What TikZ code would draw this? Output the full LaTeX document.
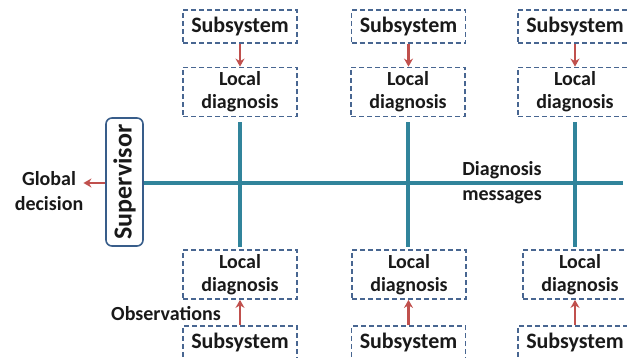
\documentclass[tikz,border=0pt]{standalone}
\usepackage{fontspec}
\setmainfont{Carlito}
\usetikzlibrary{arrows.meta,calc}
\definecolor{boxblue}{RGB}{72,102,145}
\definecolor{supblue}{RGB}{56,93,138}
\definecolor{teal}{RGB}{49,132,155}
\definecolor{arrred}{RGB}{192,80,77}
\definecolor{txt}{RGB}{25,25,25}
\tikzset{
  dbox/.style={draw=boxblue, line width=1.8pt, dash pattern=on 5pt off 3pt,
    minimum width=114pt, inner sep=0pt, align=center, text=txt,
    font=\bfseries\fontsize{20}{23}\selectfont},
  subbox/.style={dbox, minimum height=33pt, font=\bfseries\fontsize{22}{24}\selectfont},
  locbox/.style={dbox, minimum height=49pt},
  lbl/.style={align=center, text=txt, inner sep=0pt, font=\bfseries\fontsize{20}{25}\selectfont},
  bus/.style={draw=teal, line width=4pt},
  obsarrow/.style={draw=arrred, line width=2.2pt, -{Stealth[length=8pt,width=9pt]}},
}
\begin{document}
\begin{tikzpicture}[x=1pt,y=-1pt]
\useasboundingbox (0,0) rectangle (627,358);
\clip (0,0) rectangle (627,358);
% top row
\node[subbox] (st1) at (240,26.5) {Subsystem};
\node[subbox] (st2) at (408.5,26.5) {Subsystem};
\node[subbox] (st3) at (575,26.5) {Subsystem};
\node[locbox] (lt1) at (240,92) {Local\\diagnosis};
\node[locbox] (lt2) at (408,92) {Local\\diagnosis};
\node[locbox] (lt3) at (575,92) {Local\\diagnosis};
% bottom row
\node[locbox] (lb1) at (240,274.5) {Local\\diagnosis};
\node[locbox] (lb2) at (409,274.5) {Local\\diagnosis};
\node[locbox] (lb3) at (580,274.5) {Local\\diagnosis};
\node[subbox, minimum height=34pt] (sb1) at (240,343) {Subsystem};
\node[subbox, minimum height=34pt] (sb2) at (408.5,343) {Subsystem};
\node[subbox, minimum height=34pt] (sb3) at (575,343) {Subsystem};
% supervisor
\node[draw=supblue, line width=1.6pt, rounded corners=6pt, minimum width=37pt,
  minimum height=128pt, inner sep=0pt, text=txt] (sup) at (124.5,182)
  {\rotatebox{90}{\bfseries\fontsize{26}{28}\selectfont Supervisor}};
% labels
\node[lbl] (glob) at (49,191) {Global\\decision};
\node[lbl] (msg) at (502,183) {Diagnosis\\messages};
\node[lbl, anchor=base] (obs) at (166,320) {Observations};
\coordinate (busend) at (623,183);
% bus
\draw[bus] (sup.east |- busend) -- (busend);
\draw[bus] ($(lt1.south)+(0,5)$) -- ($(lt1.south |- lb1.north)+(0,-2)$);
\draw[bus] ($(lt2.south)+(0,5)$) -- ($(lt2.south |- lb2.north)+(0,-2)$);
\draw[bus] ($(lt3.south)+(0,5)$) -- ($(lt3.south |- lb3.north)+(0,-2)$);
% arrows
\draw[obsarrow] (st1) -- (lt1);
\draw[obsarrow] (st2.south) -- (st2.south |- lt2.north);
\draw[obsarrow] (st3) -- (lt3);
\draw[obsarrow] (sb1) -- (lb1);
\draw[obsarrow] (sb2.north) -- (sb2.north |- lb2.south);
\draw[obsarrow] (sb3.north) -- (sb3.north |- lb3.south);
\draw[obsarrow] (sup.west |- busend) -- (glob.east |- busend);
\end{tikzpicture}
\end{document}
